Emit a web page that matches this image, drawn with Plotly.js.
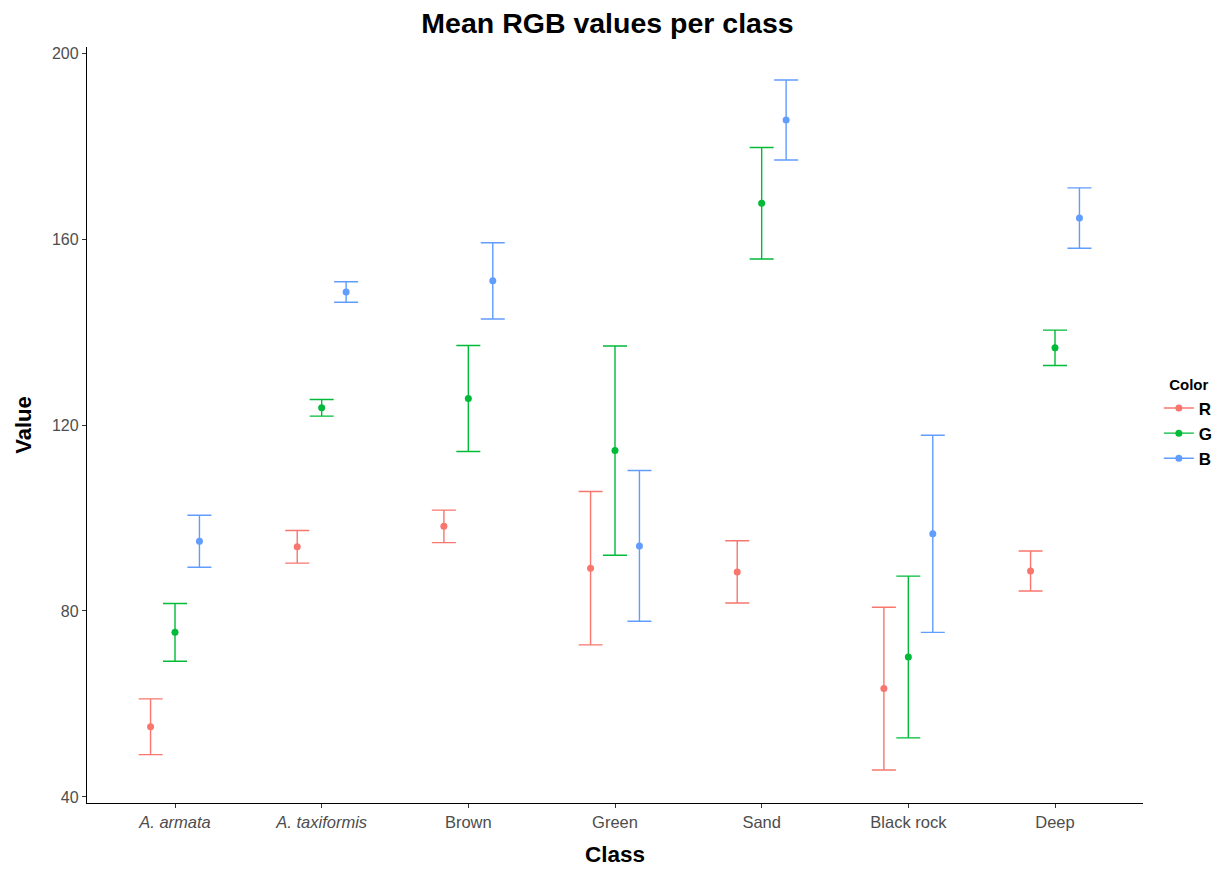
<!DOCTYPE html>
<html>
<head>
<meta charset="utf-8">
<script src="https://cdn.plot.ly/plotly-3.0.1.min.js"></script>
<style>html,body{margin:0;padding:0;background:#fff;}#chart{width:1215px;height:871px;}</style>
</head>
<body>
<div id="chart"></div>
<script>
const classes = ["<i>A. armata</i>", "<i>A. taxiformis</i>", "Brown", "Green", "Sand", "Black rock", "Deep"];
const seriesNames = ["R", "G", "B"];
const seriesColors = ["#F8766D", "#00BA38", "#619CFF"];
const meanR = [55.1, 93.8, 98.2, 89.2, 88.4, 63.3, 88.6];
const errR  = [6.0, 3.5, 3.5, 16.5, 6.7, 17.5, 4.3];
const meanG = [75.4, 123.7, 125.7, 114.5, 167.7, 70.1, 136.6];
const errG  = [6.2, 1.8, 11.4, 22.5, 12.0, 17.4, 3.8];
const meanB = [95.0, 148.6, 151.0, 94.0, 185.6, 96.6, 164.5];
const errB  = [5.6, 2.2, 8.2, 16.2, 8.6, 21.2, 6.5];
const tickVals = [40, 80, 120, 160, 200];

const means = [meanR, meanG, meanB];
const errs = [errR, errG, errB];
const dodge = 0.5;
const offsets = [-dodge/3, 0, dodge/3];

const traces = seriesNames.map((name, k) => ({
  type: "scatter",
  mode: "markers",
  name: name,
  legendgroup: name,
  showlegend: false,
  x: classes.map((_, i) => i + 1 + offsets[k]),
  y: means[k],
  marker: {color: seriesColors[k], size: 7},
  error_y: {type: "data", array: errs[k], visible: true, color: seriesColors[k], thickness: 1.4, width: 12},
  hoverinfo: "x+y"
}));

// legend entries (line + point glyph, like the reference key)
seriesNames.forEach((name, k) => {
  traces.push({
    type: "scatter",
    mode: "lines+markers",
    name: "<b>" + name + "</b>",
    legendgroup: name,
    x: [null], y: [null],
    line: {color: seriesColors[k], width: 1.4},
    marker: {color: seriesColors[k], size: 7},
    hoverinfo: "skip"
  });
});

const layout = {
  width: 1215, height: 871,
  paper_bgcolor: "#fff", plot_bgcolor: "#fff",
  margin: {l: 87, r: 72, t: 47, b: 68, autoexpand: false},
  font: {family: "Liberation Sans, Arial, sans-serif", color: "#4d4d4d"},
  title: {text: "<b>Mean RGB values per class</b>", x: 0.5, xanchor: "center", y: 0.974, yanchor: "middle", font: {size: 28.5, color: "#000"}},
  xaxis: {
    range: [0.4, 7.6],
    tickmode: "array",
    tickvals: classes.map((_, i) => i + 1),
    ticktext: classes,
    tickfont: {size: 16.5, color: "#4d4d4d"},
    ticks: "outside", ticklen: 4, tickcolor: "#333", tickwidth: 1,
    showline: true, linecolor: "#000", linewidth: 1.3,
    showgrid: false, zeroline: false,
    title: {text: "<b>Class</b>", font: {size: 22.5, color: "#000"}, standoff: 16}
  },
  yaxis: {
    range: [38.7, 201.3],
    tickmode: "array",
    tickvals: tickVals,
    ticktext: tickVals.map(String),
    tickfont: {size: 16, color: "#4d4d4d"},
    ticks: "outside", ticklen: 4, tickcolor: "#333", tickwidth: 1,
    showline: true, linecolor: "#000", linewidth: 1.3,
    showgrid: false, zeroline: false,
    title: {text: "<b>Value</b>", font: {size: 22, color: "#000"}, standoff: 14}
  },
  showlegend: true,
  legend: {
    x: 1.015, xanchor: "left", y: 0.502, yanchor: "middle",
    title: {text: "&nbsp;&nbsp;<b>Color</b>", font: {size: 15, color: "#000"}},
    font: {size: 17, color: "#000"},
    tracegroupgap: 0, itemwidth: 30,
    bgcolor: "rgba(0,0,0,0)"
  }
};

Plotly.newPlot("chart", traces, layout, {displayModeBar: false});
</script>
</body>
</html>
